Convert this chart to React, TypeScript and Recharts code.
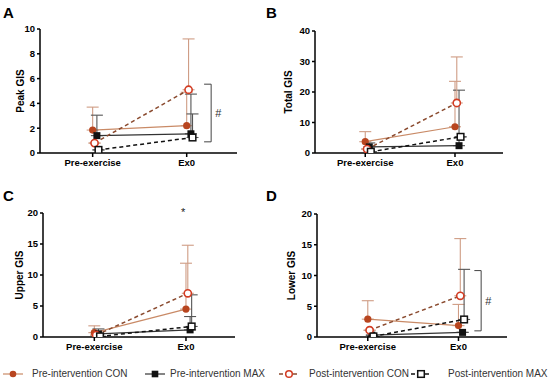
import React from 'react'
import { LineChart, Line, XAxis, YAxis, ErrorBar, ReferenceLine, ReferenceDot, Label } from 'recharts'

const FONT = '"Liberation Sans", Arial, sans-serif'

const categories = ['Pre-exercise', 'Ex0']

// A - Peak GIS (mean, top of error bar)
const peakPreCon = [1.85, 2.2]
const peakPreConTop = [3.7, 4.9]
const peakPreMax = [1.4, 1.55]
const peakPreMaxTop = [3.05, 4.75]
const peakPostCon = [0.8, 5.1]
const peakPostConTop = [0.8, 9.2]
const peakPostMax = [0.25, 1.25]
const peakPostMaxTop = [0.25, 3.15]

// B - Total GIS
const totalPreCon = [3.7, 8.6]
const totalPreConTop = [7.0, 23.5]
const totalPreMax = [2.0, 2.4]
const totalPreMaxTop = [3.3, 20.6]
const totalPostCon = [1.3, 16.4]
const totalPostConTop = [1.3, 31.5]
const totalPostMax = [0.4, 5.3]
const totalPostMaxTop = [0.4, 5.3]

// C - Upper GIS
const upperPreCon = [0.7, 4.5]
const upperPreConTop = [1.8, 11.9]
const upperPreMax = [0.5, 1.15]
const upperPreMaxTop = [1.3, 3.3]
const upperPostCon = [0.3, 7.05]
const upperPostConTop = [0.3, 14.8]
const upperPostMax = [0.1, 1.7]
const upperPostMaxTop = [0.1, 6.8]

// D - Lower GIS
const lowerPreCon = [2.9, 1.85]
const lowerPreConTop = [5.9, 5.3]
const lowerPreMax = [0.3, 0.75]
const lowerPreMaxTop = [0.3, 0.75]
const lowerPostCon = [1.1, 6.7]
const lowerPostConTop = [1.1, 16.0]
const lowerPostMax = [0.1, 2.85]
const lowerPostMaxTop = [0.1, 11.0]

const peakTicks = [0, 2, 4, 6, 8, 10]
const totalTicks = [0, 10, 20, 30, 40]
const upperTicks = [0, 5, 10, 15, 20]
const lowerTicks = [0, 5, 10, 15, 20]

// significance marks
const peakBracket = [0.9, 5.55]
const lowerBracket = [1.0, 10.8]
const upperStar = { x: 0.97, y: 20.3 }

type Kind = 'circle' | 'square'

const SERIES = [
  { name: 'Pre-intervention CON', kind: 'circle' as Kind, open: false, mark: '#b8451f', line: '#c98a66', dash: undefined, lw: 1.2, err: '#cf9c84', dodge: 0 },
  { name: 'Pre-intervention MAX', kind: 'square' as Kind, open: false, mark: '#111', line: '#333', dash: undefined, lw: 1.2, err: '#555', dodge: 0.045 },
  { name: 'Post-intervention CON', kind: 'circle' as Kind, open: true, mark: '#d23b22', line: '#8a4a2e', dash: '4 3', lw: 1.5, err: '#cf9c84', dodge: 0.02 },
  { name: 'Post-intervention MAX', kind: 'square' as Kind, open: true, mark: '#111', line: '#111', dash: '4 3', lw: 1.5, err: '#555', dodge: 0.062 },
]

function makeRows(values: number[], tops: number[], dodge: number) {
  return values.map((v, i) => ({ x: i + dodge, y: v, err: [0, Math.max(0, tops[i] - v)] }))
}

function dotFor(s: (typeof SERIES)[number]) {
  return (props: any) => {
    const { cx, cy, index } = props
    if (cx == null || cy == null) return <g key={`n-${index}`} />
    if (s.kind === 'circle') {
      return s.open ? (
        <circle key={`d-${index}`} cx={cx} cy={cy} r={3.6} fill="#fff" stroke={s.mark} strokeWidth={1.6} />
      ) : (
        <circle key={`d-${index}`} cx={cx} cy={cy} r={3.6} fill={s.mark} stroke="none" />
      )
    }
    return s.open ? (
      <rect key={`d-${index}`} x={cx - 3.3} y={cy - 3.3} width={6.6} height={6.6} fill="#fff" stroke={s.mark} strokeWidth={1.5} />
    ) : (
      <rect key={`d-${index}`} x={cx - 3.5} y={cy - 3.5} width={7} height={7} fill={s.mark} />
    )
  }
}

interface PanelProps {
  yLabel: string
  left: number
  top: number
  width: number
  height: number
  margin: { top: number; right: number; bottom: number; left: number }
  yMax: number
  yTicks: number[]
  labelDx: number
  data: number[][]
  bracket?: number[]
  bracketX?: number
  star?: { x: number; y: number }
}

function Panel(p: PanelProps) {
  const tickStyle = { fontSize: 9.5, fontWeight: 700, fill: '#000', fontFamily: FONT }
  return (
    <div style={{ position: 'absolute', left: p.left, top: p.top }}>
      <LineChart width={p.width} height={p.height} margin={p.margin}>
        <XAxis
          type="number"
          dataKey="x"
          domain={[-0.56, 1.535]}
          ticks={[0, 1]}
          interval={0}
          allowDataOverflow
          tickFormatter={(v: number) => categories[v] ?? ''}
          height={20}
          tickSize={4}
          tickMargin={2}
          axisLine={{ stroke: '#000', strokeWidth: 1.5 }}
          tickLine={{ stroke: '#000', strokeWidth: 1.5 }}
          tick={tickStyle}
        />
        <YAxis
          type="number"
          domain={[0, p.yMax]}
          ticks={p.yTicks}
          interval={0}
          allowDataOverflow
          width={40}
          tickSize={3}
          tickMargin={2}
          axisLine={{ stroke: '#000', strokeWidth: 1.5 }}
          tickLine={{ stroke: '#000', strokeWidth: 1.5 }}
          tick={tickStyle}
        >
          <Label
            value={p.yLabel}
            angle={-90}
            position="center"
            dx={p.labelDx}
            style={{ fontSize: 10, fontWeight: 700, fill: '#000', fontFamily: FONT }}
          />
        </YAxis>
        {SERIES.map((s, i) => (
          <Line
            key={s.name}
            data={makeRows(p.data[i * 2], p.data[i * 2 + 1], s.dodge)}
            dataKey="y"
            stroke={s.line}
            strokeWidth={s.lw}
            strokeDasharray={s.dash}
            dot={dotFor(s)}
            activeDot={false}
            isAnimationActive={false}
          >
            <ErrorBar dataKey="err" direction="y" width={6} stroke={s.err} strokeWidth={1.1} />
          </Line>
        ))}
        {p.bracket && p.bracketX != null && (
          <>
            <ReferenceLine
              segment={[{ x: p.bracketX, y: p.bracket[0] }, { x: p.bracketX, y: p.bracket[1] }]}
              stroke="#444"
              strokeWidth={1}
              ifOverflow="visible"
            />
            <ReferenceLine
              segment={[{ x: p.bracketX - 0.075, y: p.bracket[0] }, { x: p.bracketX, y: p.bracket[0] }]}
              stroke="#444"
              strokeWidth={1}
              ifOverflow="visible"
            />
            <ReferenceLine
              segment={[{ x: p.bracketX - 0.075, y: p.bracket[1] }, { x: p.bracketX, y: p.bracket[1] }]}
              stroke="#444"
              strokeWidth={1}
              ifOverflow="visible"
            />
            <ReferenceDot
              x={p.bracketX}
              y={(p.bracket[0] + p.bracket[1]) / 2}
              ifOverflow="visible"
              shape={(sp: any) => (
                <text x={sp.cx + 4} y={sp.cy + 4} fontSize={11} fontFamily={FONT} fill="#333">
                  #
                </text>
              )}
            />
          </>
        )}
        {p.star && (
          <ReferenceDot
            x={p.star.x}
            y={p.star.y}
            ifOverflow="visible"
            shape={(sp: any) => (
              <text x={sp.cx} y={sp.cy + 5} fontSize={11} textAnchor="middle" fontFamily={FONT} fill="#222">
                *
              </text>
            )}
          />
        )}
      </LineChart>
    </div>
  )
}

function LegendIcon({ s }: { s: (typeof SERIES)[number] }) {
  return (
    <svg width={22} height={10} style={{ display: 'block' }}>
      <line x1={1} y1={5} x2={21} y2={5} stroke={s.line} strokeWidth={s.lw} strokeDasharray={s.dash} />
      {s.kind === 'circle' ? (
        <circle cx={11} cy={5} r={3.3} fill={s.open ? '#fff' : s.mark} stroke={s.open ? s.mark : 'none'} strokeWidth={1.5} />
      ) : (
        <rect x={7.7} y={1.7} width={6.6} height={6.6} fill={s.open ? '#fff' : s.mark} stroke={s.mark} strokeWidth={s.open ? 1.5 : 0} />
      )}
    </svg>
  )
}

const legendIconX = [2, 144, 278, 410]
const legendTextX = [32, 170, 309, 448]

export default function App() {
  const letter = (t: string, x: number, y: number) => (
    <div style={{ position: 'absolute', left: x, top: y, fontFamily: FONT, fontWeight: 700, fontSize: 15, lineHeight: '15px', color: '#000' }}>
      {t}
    </div>
  )
  return (
    <div style={{ position: 'absolute', left: 0, top: 0, width: 550, height: 383, background: '#fff', overflow: 'hidden' }}>
      <Panel
        yLabel="Peak GIS"
        left={0}
        top={0}
        width={250}
        height={175}
        margin={{ top: 29, right: 13, bottom: 2, left: 0 }}
        yMax={10}
        yTicks={peakTicks}
        labelDx={0}
        data={[peakPreCon, peakPreConTop, peakPreMax, peakPreMaxTop, peakPostCon, peakPostConTop, peakPostMax, peakPostMaxTop]}
        bracket={peakBracket}
        bracketX={1.26}
      />
      <Panel
        yLabel="Total GIS"
        left={275}
        top={0}
        width={240}
        height={175}
        margin={{ top: 31, right: 12, bottom: 2, left: 0 }}
        yMax={40}
        yTicks={totalTicks}
        labelDx={-7}
        data={[totalPreCon, totalPreConTop, totalPreMax, totalPreMaxTop, totalPostCon, totalPostConTop, totalPostMax, totalPostMaxTop]}
      />
      <Panel
        yLabel="Upper GIS"
        left={3}
        top={175}
        width={250}
        height={185}
        margin={{ top: 38, right: 18, bottom: 3, left: 0 }}
        yMax={20}
        yTicks={upperTicks}
        labelDx={-4}
        data={[upperPreCon, upperPreConTop, upperPreMax, upperPreMaxTop, upperPostCon, upperPostConTop, upperPostMax, upperPostMaxTop]}
        star={upperStar}
      />
      <Panel
        yLabel="Lower GIS"
        left={277}
        top={175}
        width={240}
        height={185}
        margin={{ top: 39, right: 10, bottom: 3, left: 0 }}
        yMax={20}
        yTicks={lowerTicks}
        labelDx={-6}
        data={[lowerPreCon, lowerPreConTop, lowerPreMax, lowerPreMaxTop, lowerPostCon, lowerPostConTop, lowerPostMax, lowerPostMaxTop]}
        bracket={lowerBracket}
        bracketX={1.25}
      />
      {letter('A', 3, 5)}
      {letter('B', 266, 5)}
      {letter('C', 3, 188)}
      {letter('D', 266, 188)}
      {SERIES.map((s, i) => (
        <React.Fragment key={s.name}>
          <div style={{ position: 'absolute', left: legendIconX[i], top: 369 }}>
            <LegendIcon s={s} />
          </div>
          <div
            style={{ position: 'absolute', left: legendTextX[i], top: 368, fontFamily: FONT, fontSize: 10, lineHeight: '12px', color: '#333', whiteSpace: 'nowrap' }}
          >
            {s.name}
          </div>
        </React.Fragment>
      ))}
    </div>
  )
}
